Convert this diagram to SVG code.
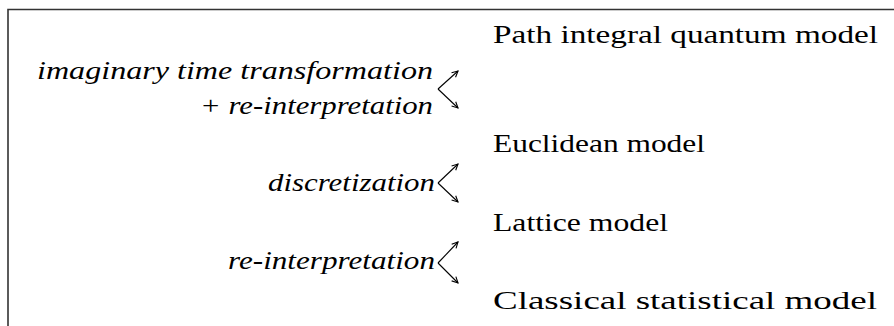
<svg xmlns="http://www.w3.org/2000/svg" width="894" height="326" viewBox="0 0 894 326">
<defs>
<style>
.lbl{font-family:"Liberation Serif","DejaVu Serif",serif;font-size:25px;fill:#000}
.it{font-style:italic;text-anchor:end}
.conn{fill:none;stroke:#000;stroke-width:1.1}
.frame{fill:none;stroke:#333;stroke-width:1.6}
</style>
<marker id="ah" viewBox="-8 -5 10 10" markerWidth="10" markerHeight="10" markerUnits="userSpaceOnUse" orient="auto" refX="0" refY="0">
<path d="M-6,-3 L0,0 L-6,3" fill="none" stroke="#000" stroke-width="1.1"/>
</marker>
</defs>
<rect width="894" height="326" fill="#fff"/>
<path class="frame" d="M8,326 V9.5 H894"/>
<g id="n1"><text class="lbl" x="493" y="43" textLength="385" lengthAdjust="spacingAndGlyphs">Path integral quantum model</text></g>
<g id="n2"><text class="lbl" x="493" y="152" textLength="212" lengthAdjust="spacingAndGlyphs">Euclidean model</text></g>
<g id="n3"><text class="lbl" x="493" y="231" textLength="175" lengthAdjust="spacingAndGlyphs">Lattice model</text></g>
<g id="n4"><text class="lbl" x="493" y="309" textLength="384" lengthAdjust="spacingAndGlyphs">Classical statistical model</text></g>
<g id="l1">
<text class="lbl it" x="433" y="79" textLength="396" lengthAdjust="spacingAndGlyphs">imaginary time transformation</text>
<text class="lbl it" x="433" y="114" textLength="233" lengthAdjust="spacingAndGlyphs">+ re-interpretation</text>
</g>
<g id="l2"><text class="lbl it" x="435" y="191" textLength="167" lengthAdjust="spacingAndGlyphs">discretization</text></g>
<g id="l3"><text class="lbl it" x="435" y="269" textLength="207" lengthAdjust="spacingAndGlyphs">re-interpretation</text></g>
<g id="connectors">
<path class="conn" marker-end="url(#ah)" d="M438,89 L458,71"/>
<path class="conn" marker-end="url(#ah)" d="M438,89 L458,108"/>
<path class="conn" marker-end="url(#ah)" d="M438,183 L458,164"/>
<path class="conn" marker-end="url(#ah)" d="M438,183 L458,202"/>
<path class="conn" marker-end="url(#ah)" d="M438,263 L458,242"/>
<path class="conn" marker-end="url(#ah)" d="M438,263 L458,283"/>
</g>
</svg>
